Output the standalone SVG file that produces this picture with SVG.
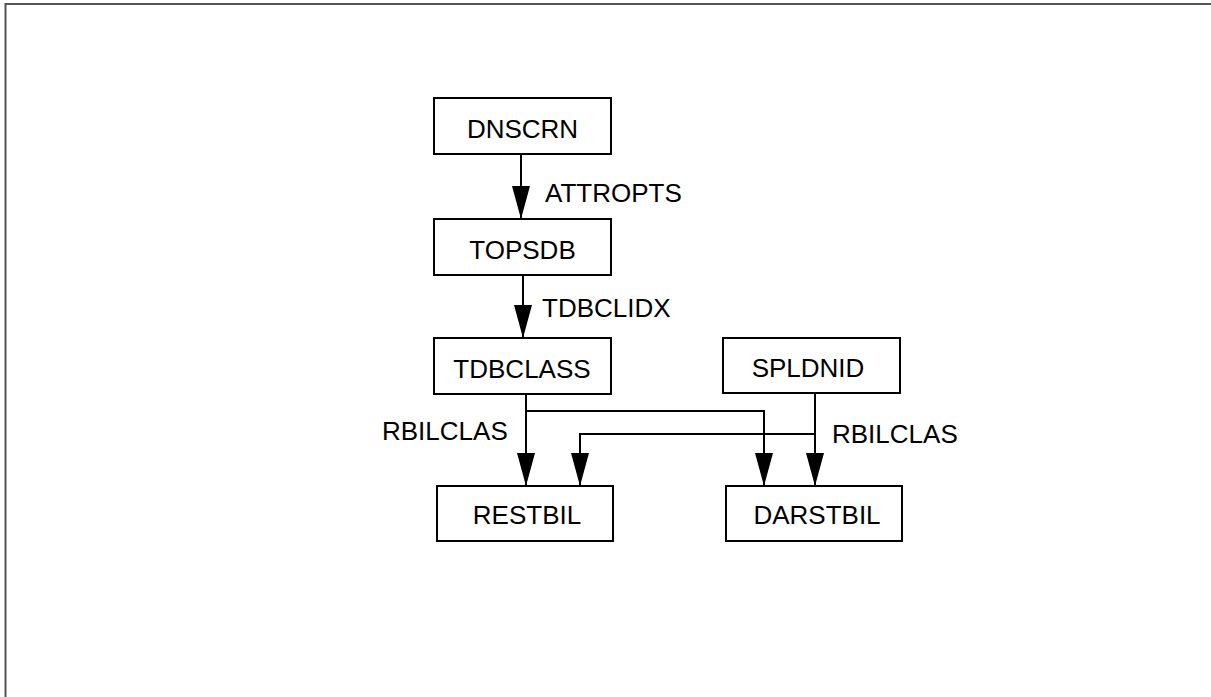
<svg xmlns="http://www.w3.org/2000/svg" width="1211" height="697" viewBox="0 0 1211 697">
<style>
.box{fill:#fff;stroke:#000;stroke-width:2}
.lbl{font-family:"Liberation Sans",Arial,sans-serif;font-size:26px;fill:#000}
.c{text-anchor:middle}
.conn{fill:none;stroke:#000;stroke-width:2;marker-end:url(#ah)}
</style>
<defs>
<marker id="ah" markerUnits="userSpaceOnUse" markerWidth="34" markerHeight="20" refX="33" refY="9" orient="auto" viewBox="0 0 34 18">
<path d="M0,0 L33,9 L0,18 z" fill="#000"/>
</marker>
</defs>
<rect x="0" y="0" width="1211" height="697" fill="#fff"/>
<path d="M5.5,697 L5.5,4 L1211,4" fill="none" stroke="#555" stroke-width="2"/>
<g id="connectors">
<path class="conn" d="M521,154 L521,219"/>
<path class="conn" d="M523,275 L523,338"/>
<path class="conn" d="M526,394 L526,486"/>
<path class="conn" d="M526,411 L764,411 L764,486"/>
<path class="conn" d="M815,393 L815,486"/>
<path class="conn" d="M815,434 L580,434 L580,486"/>
<text class="lbl" x="545" y="202">ATTROPTS</text>
<text class="lbl" x="542" y="317">TDBCLIDX</text>
<text class="lbl" x="382" y="440">RBILCLAS</text>
<text class="lbl" x="832" y="443">RBILCLAS</text>
</g>
<g id="DNSCRN"><rect class="box" x="434" y="98" width="177" height="56"/><text class="lbl c" x="522.5" y="138">DNSCRN</text></g>
<g id="TOPSDB"><rect class="box" x="434" y="219" width="177" height="56"/><text class="lbl c" x="522.5" y="259">TOPSDB</text></g>
<g id="TDBCLASS"><rect class="box" x="434" y="338" width="177" height="56"/><text class="lbl c" x="522" y="378">TDBCLASS</text></g>
<g id="SPLDNID"><rect class="box" x="723" y="338" width="177" height="55"/><text class="lbl c" x="808" y="377">SPLDNID</text></g>
<g id="RESTBIL"><rect class="box" x="437" y="486" width="176" height="55"/><text class="lbl c" x="527" y="524">RESTBIL</text></g>
<g id="DARSTBIL"><rect class="box" x="726" y="486" width="176" height="55"/><text class="lbl c" x="817" y="524">DARSTBIL</text></g>
</svg>
